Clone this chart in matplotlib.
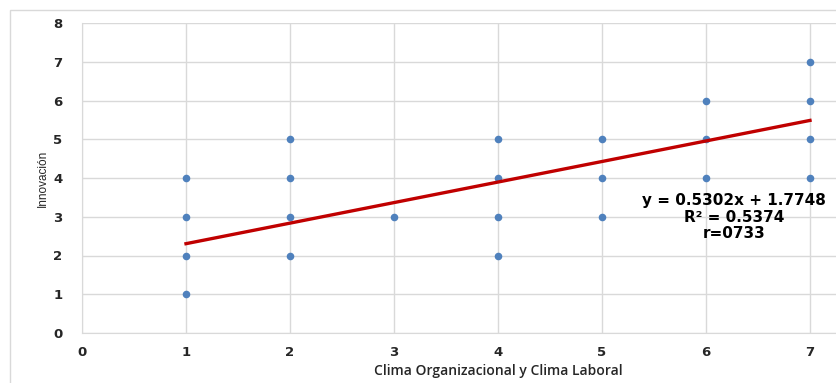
import matplotlib.pyplot as plt
from matplotlib.patches import Rectangle

# Puntajes observados (clima vs innovación)
clima = [1, 1, 1, 1, 2, 2, 2, 2, 3, 4, 4, 4, 4, 5, 5, 5, 6, 6, 6, 7, 7, 7, 7]
innovacion = [1, 2, 3, 4, 2, 3, 4, 5, 3, 2, 3, 4, 5, 3, 4, 5, 4, 5, 6, 4, 5, 6, 7]

# Recta de tendencia lineal
pendiente = 0.5302
intercepto = 1.7748
r2 = 0.5374
x_tend = [1, 7]

fig = plt.figure(figsize=(8.36, 3.83), dpi=100)
fig.patches.append(Rectangle((10 / 836, -0.1), 1.2, 1 - 10 / 383 + 0.1,
                             transform=fig.transFigure, fill=False,
                             edgecolor='#D9D9D9', linewidth=1))

# el área de trazado sigue más allá del borde derecho (eje x de 0 a 8)
ax = fig.add_axes([82 / 836, 1 - 333 / 383, 832 / 836, 310 / 383])

ax.scatter(clima, innovacion, s=30, color='#4F81BD', zorder=3, linewidths=0)
ax.plot(x_tend, [pendiente * x + intercepto for x in x_tend],
        color='#C00000', linewidth=2.4, zorder=4)

ax.set_xlim(0, 8)
ax.set_ylim(0, 8)
ax.set_xticks(range(0, 8))
ax.set_yticks(range(0, 9))
ax.grid(True, color='#D9D9D9', linewidth=1)
ax.set_axisbelow(True)
for s in ['top', 'right']:
    ax.spines[s].set_visible(False)
for s in ['left', 'bottom']:
    ax.spines[s].set_color('#D9D9D9')
ax.tick_params(length=0, labelsize=9.5, colors='#262626')
ax.tick_params(axis='y', pad=14)
ax.tick_params(axis='x', pad=9)
for lbl in ax.get_xticklabels() + ax.get_yticklabels():
    lbl.set_fontfamily('DejaVu Sans')
    lbl.set_fontweight('bold')

ax.set_xlabel('Clima Organizacional y Clima Laboral', fontfamily='Open Sans',
              fontweight='semibold', fontsize=10, color='#262626', labelpad=4)
ax.set_ylabel('Innovación', fontfamily='Liberation Sans', fontsize=8.5,
              color='#262626', labelpad=3)

# ecuación de la recta, una línea por texto
lineas = [f'y = {pendiente}x + {intercepto}', f'R² = {r2}', 'r=0733']
for texto, yy in zip(lineas, [3.43, 2.99, 2.58]):
    ax.text(6.27, yy, texto, ha='center', va='center',
            fontfamily='DejaVu Sans', fontweight='bold',
            fontsize=11, color='black')

fig.savefig('out.png', dpi=100)
